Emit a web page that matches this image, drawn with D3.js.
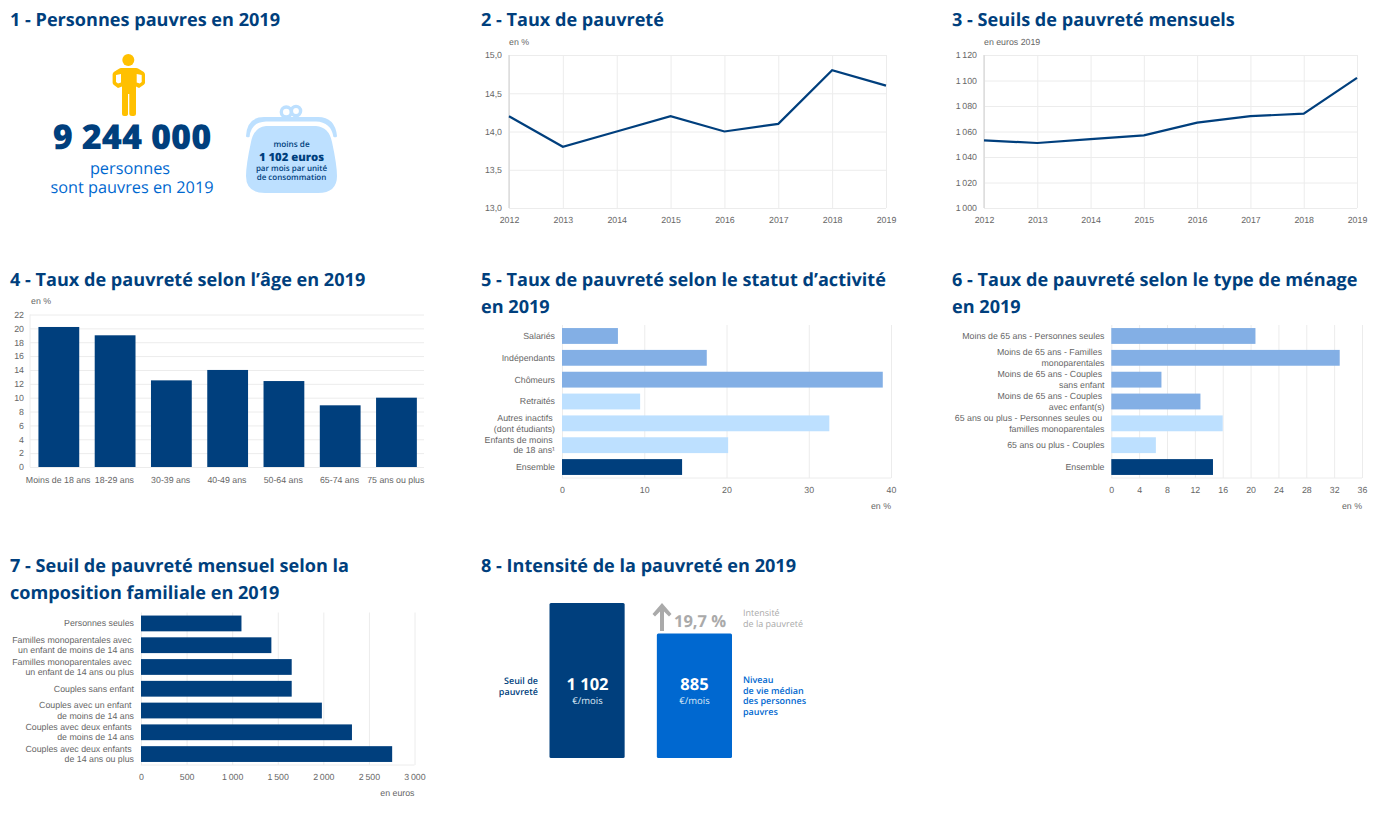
<!DOCTYPE html>
<html lang="fr"><head><meta charset="utf-8">
<script src="https://cdn.jsdelivr.net/npm/d3@7"></script>
<style>
html,body{margin:0;padding:0;background:#fff}
svg{display:block}
text{white-space:pre;text-rendering:geometricPrecision}
.title{font:700 18.1px "Open Sans",sans-serif;fill:#003f7d}
.ax text,.lab{font:8.8px "Liberation Sans",Arial,sans-serif;fill:#666}
.os{font-family:"Open Sans",sans-serif}
</style></head><body>
<svg id="c" width="1385" height="815"></svg>
<script>
const titles=[
 ["1 - Personnes pauvres en 2019"],["2 - Taux de pauvreté"],["3 - Seuils de pauvreté mensuels"],
 ["4 - Taux de pauvreté selon l’âge en 2019"],["5 - Taux de pauvreté selon le statut d’activité","en 2019"],
 ["6 - Taux de pauvreté selon le type de ménage","en 2019"],
 ["7 - Seuil de pauvreté mensuel selon la","composition familiale en 2019"],["8 - Intensité de la pauvreté en 2019"]];
const years=[2012,2013,2014,2015,2016,2017,2018,2019];
const tauxPauvrete=[14.2,13.8,14.0,14.2,14.0,14.1,14.8,14.6];
const seuils=[1053,1051,1054,1057,1067,1072,1074,1102];
const ages=["Moins de 18 ans","18-29 ans","30-39 ans","40-49 ans","50-64 ans","65-74 ans","75 ans ou plus"];
const tauxAge=[20.2,19.0,12.5,14.0,12.4,8.9,10.0];
const statuts=["Salariés","Indépendants","Chômeurs","Retraités","Autres inactifs \n(dont étudiants)","Enfants de moins \nde 18 ans¹","Ensemble"];
const tauxStatut=[6.8,17.6,39.0,9.5,32.5,20.2,14.6];
const statutGroupe=[1,1,1,2,2,2,0];
const menages=["Moins de 65 ans - Personnes seules","Moins de 65 ans - Familles \nmonoparentales","Moins de 65 ans - Couples \nsans enfant","Moins de 65 ans - Couples \navec enfant(s)","65 ans ou plus - Personnes seules ou \nfamilles monoparentales","65 ans ou plus - Couples","Ensemble"];
const tauxMenage=[20.7,32.8,7.2,12.8,16.0,6.4,14.6];
const menageGroupe=[1,1,1,1,2,2,0];
const familles=["Personnes seules","Familles monoparentales avec \nun enfant de moins de 14 ans","Familles monoparentales avec \nun enfant de 14 ans ou plus","Couples sans enfant","Couples avec un enfant \nde moins de 14 ans","Couples avec deux enfants \nde moins de 14 ans","Couples avec deux enfants \nde 14 ans ou plus"];
const seuilFamille=[1102,1430,1653,1653,1984,2314,2755];
const intensite=[1102,885];

const NAVY="#003f7d",MID="#83afe5",LIGHT="#bde0ff",BLUE="#0068d0",GRID="#ececec";
const groupColors=[NAVY,MID,LIGHT];
const fr=d3.formatLocale({decimal:",",thousands:"\u202f",grouping:[3],currency:["","€"]});
const svg=d3.select("#c");

const titlePos=[[10,25.5],[481,25.5],[952,25.5],[10,285.5],[481,285.5],[952,285.5],[10,571.5],[481,571.5]];
titles.forEach((t,i)=>t.forEach((l,j)=>svg.append("text").attr("class","title")
  .attr("x",titlePos[i][0]).attr("y",titlePos[i][1]+j*27).text(l)));

function lab(x,y,t,anchor="start"){return svg.append("text").attr("class","lab").attr("x",x).attr("y",y).attr("text-anchor",anchor).text(t)}
function clean(g){g.selectAll(".domain").remove();g.selectAll(".tick line").attr("stroke",GRID)}

/* line charts */
function lineChart(vals,dom,step,fmt,x0,x1,unit){
  const top=55,bot=208;
  const x=d3.scaleLinear().domain([years[0],years[7]]).range([x0,x1]);
  const y=d3.scaleLinear().domain(dom).range([bot,top]);
  const g=svg.append("g");
  g.append("g").attr("class","ax").attr("transform",`translate(0,${bot})`)
   .call(d3.axisBottom(x).tickValues(years).tickFormat(d3.format("d")).tickSize(bot-top).tickPadding(0))
   .call(clean).call(a=>a.selectAll(".tick line").attr("y1",0).attr("y2",top-bot))
   .call(a=>a.selectAll(".tick text").attr("y",9).attr("dy","0.71em"));
  g.append("g").attr("class","ax").attr("transform",`translate(${x0},0)`)
   .call(d3.axisLeft(y).tickValues(d3.range(dom[0],dom[1]+step/2,step)).tickFormat(fr.format(fmt)).tickSize(0).tickPadding(7))
   .call(a=>a.select(".domain").remove())
   .call(a=>a.selectAll(".tick").append("line").attr("x2",x1-x0).attr("stroke",GRID));
  g.append("line").attr("x1",x0).attr("x2",x0).attr("y1",top).attr("y2",bot).attr("stroke","#d5d5d5").attr("stroke-width",1.2);
  g.append("path").attr("fill","none").attr("stroke",NAVY).attr("stroke-width",2.2)
   .attr("d",d3.line().x((d,i)=>x(years[i])).y(d=>y(d))(vals));
  lab(x0,44.5,unit);
}
lineChart(tauxPauvrete,[13,15],.5,".1f",509,886,"en %");
lineChart(seuils,[1000,1120],20,",d",984,1357,"en euros 2019");

/* chart 4 */
{
  const x=d3.scaleBand().domain(ages).range([30,425.3]).paddingInner(.275).paddingOuter(.15);
  const y=d3.scaleLinear().domain([0,22]).range([467,314.5]);
  const g=svg.append("g");
  g.append("g").attr("class","ax").attr("transform","translate(30,0)")
   .call(d3.axisLeft(y).tickValues(d3.range(0,23,2)).tickSize(0).tickPadding(6))
   .call(a=>a.select(".domain").remove())
   .call(a=>a.selectAll(".tick").append("line").attr("x2",394).attr("stroke",GRID));
  g.append("line").attr("x1",30).attr("x2",30).attr("y1",314.5).attr("y2",467).attr("stroke",GRID);
  g.selectAll("rect").data(tauxAge).join("rect").attr("x",(d,i)=>x(ages[i])).attr("width",x.bandwidth())
   .attr("y",d=>y(d)).attr("height",d=>467-y(d)).attr("fill",NAVY);
  g.append("g").attr("class","ax").attr("transform","translate(0,467)")
   .call(d3.axisBottom(x).tickSize(0).tickPadding(9.5)).call(a=>a.select(".domain").remove())
   .call(a=>a.selectAll(".tick text").attr("dx",-.7));
  lab(31,304,"en %");
}

/* horizontal bars */
function hbars(cats,vals,colors,x0,x1,dmax,ticks,top,bot,labelX,unit,unitY){
  const x=d3.scaleLinear().domain([0,dmax]).range([x0,x1]);
  const y=d3.scaleBand().domain(cats).range([top,bot]).paddingInner(.275).paddingOuter(.14);
  const g=svg.append("g");
  g.append("g").attr("class","ax").attr("transform",`translate(0,${bot})`)
   .call(d3.axisBottom(x).tickValues(ticks).tickFormat(fr.format(",d")).tickSize(0).tickPadding(9))
   .call(a=>a.select(".domain").attr("stroke",GRID).attr("d",`M${x0},0H${x1}`))
   .call(a=>a.selectAll(".tick").append("line").attr("y2",top-bot).attr("stroke",GRID));
  g.selectAll("rect").data(vals).join("rect").attr("x",x0).attr("y",(d,i)=>y(cats[i])).attr("height",y.bandwidth())
   .attr("width",d=>x(d)-x0).attr("fill",(d,i)=>colors[i]);
  const ya=g.append("g").attr("class","ax").attr("transform",`translate(${labelX},0)`)
   .call(d3.axisLeft(y).tickSize(0).tickPadding(0)).call(a=>a.select(".domain").remove());
  ya.selectAll(".tick text").each(function(d){
    const t=d3.select(this),ls=d.split("\n");t.text(null).attr("dy",null).attr("x",0);
    ls.forEach((l,i)=>t.append("tspan").attr("x",0).attr("y",(i-(ls.length-1)/2)*10.6+2.9).text(l));
  });
  lab(x1,unitY,unit,"end");
}
hbars(statuts,tauxStatut,statutGroupe.map(i=>groupColors[i]),562,891,40,d3.range(0,41,10),325,478,555,"en %",509);
hbars(menages,tauxMenage,menageGroupe.map(i=>groupColors[i]),1111.3,1362,36,d3.range(0,37,4),325,478,1104.5,"en %",509);
hbars(familles,seuilFamille,familles.map(()=>NAVY),141,414.5,3000,d3.range(0,3001,500),612.5,765,134,"en euros",796);

/* panel 1 */
{
  const g=svg.append("g");
  g.append("circle").attr("cx",128.3).attr("cy",60).attr("r",6).attr("fill","#ffc000");
  g.append("path").attr("fill","#ffc000").attr("fill-rule","evenodd").attr("d",
   "M121,68H136Q137.5,68 138.5,68.8L143.8,72Q145,73 145,74.5V82.5Q145,84 143.8,84.8L139,88L136,86.5V114Q136,116 133.5,116H132Q129.3,116 129.3,114V94H128V114Q128,116 125,116H124Q122,116 122,114V86.5L118,88L113.6,84.8Q112.6,84 112.6,82.5V74.5Q112.6,73 113.8,72L119,68.8Q120,68 121,68ZM116,75V82L118,83.6L121,82.4V74ZM141.7,75V82L139.7,83.6L136.7,82.4V74Z");
  g.append("text").attr("class","os").attr("x",132).attr("y",149).attr("text-anchor","middle")
   .attr("font-size",34.3).attr("font-weight",800).attr("fill",NAVY).text("9 244 000");
  [["personnes",130,173.5],["sont pauvres en 2019",132,193]].forEach(d=>g.append("text").attr("class","os")
   .attr("x",d[1]).attr("y",d[2]).attr("text-anchor","middle").attr("font-size",16.3).attr("fill",BLUE).text(d[0]));
  // purse
  g.append("circle").attr("cx",286.3).attr("cy",112).attr("r",5).attr("fill","none").attr("stroke",LIGHT).attr("stroke-width",3.4);
  g.append("circle").attr("cx",296).attr("cy",111).attr("r",4.6).attr("fill","none").attr("stroke",LIGHT).attr("stroke-width",3.4);
  g.append("path").attr("fill",LIGHT).attr("d",
   "M246,136Q247,117 264,117H318Q335,117 337,136Q337,138 333.5,137Q331,122 316,121.5H266Q251,122 249.5,137Q246,138 246,136Z");
  g.append("path").attr("fill",LIGHT).attr("d",
   "M266,126H316Q329,127 332,142Q337,165 337,176Q337,193 318,193H265Q246,193 246,176Q246,165 251,142Q254,127 266,126Z");
  [["moins de",147,8.2,600],["1 102 euros",160.7,11.3,800],["par mois par unité",170.6,8,600],["de consommation",179.6,8,600]].forEach(d=>
   g.append("text").attr("class","os").attr("x",291.5).attr("y",d[1]).attr("text-anchor","middle")
    .attr("font-size",d[2]).attr("font-weight",d[3]).attr("fill",NAVY).text(d[0]));
}

/* panel 8 */
{
  const h=d3.scaleLinear().domain([0,intensite[0]]).range([758,603]);
  const x=d3.scaleBand().domain([0,1]).range([549.5,732]).paddingInner(.3);
  const g=svg.append("g");
  g.selectAll("rect").data(intensite).join("rect").attr("x",(d,i)=>x(i)).attr("width",x.bandwidth())
   .attr("y",d=>h(d)).attr("height",d=>758-h(d)).attr("rx",1.5).attr("fill",(d,i)=>i?BLUE:NAVY);
  const t=(x,y,s,size,w,c,a="start")=>g.append("text").attr("class","os").attr("x",x).attr("y",y)
    .attr("text-anchor",a).attr("font-size",size).attr("font-weight",w).attr("fill",c).text(s);
  t(587.5,690,"1 102",16.5,700,"#fff","middle");
  t(587.5,704,"€/mois",9.5,400,"#dce9f5","middle");
  t(694.5,690,"885",16.5,700,"#fff","middle");
  t(694.5,704,"€/mois",9.5,400,"#dce9f5","middle");
  t(538,684,"Seuil de",9,600,NAVY,"end");
  t(538,695,"pauvreté",9,600,NAVY,"end");
  ["Niveau","de vie médian","des personnes","pauvres"].forEach((s,i)=>t(743,683+i*10.7,s,9,600,BLUE));
  t(674,626.5,"19,7 %",16.5,700,"#aaa");
  t(743,616,"Intensité",9,400,"#aaa");
  t(743,627,"de la pauvreté",9,400,"#aaa");
  g.append("path").attr("fill","#aaa").attr("d","M660,631V611.5L655,616.5L652.5,614L662,603L671.5,614L669,616.5L664,611.5V631Z");
}
</script></body></html>
